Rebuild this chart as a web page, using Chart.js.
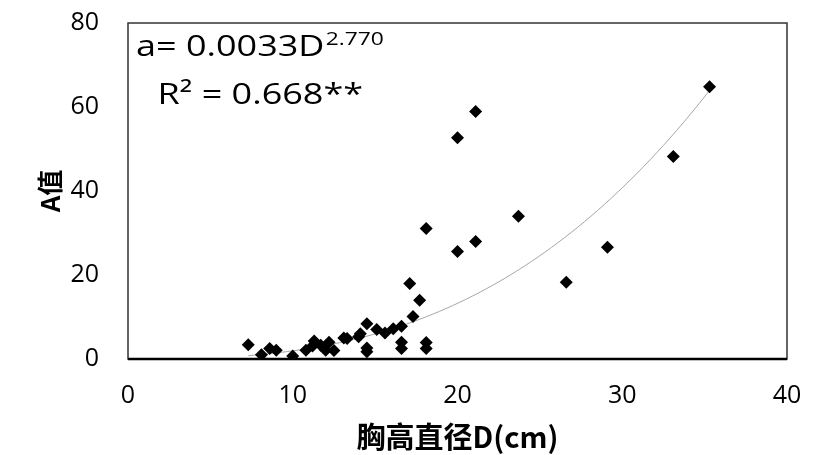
<!DOCTYPE html>
<html>
<head>
<meta charset="utf-8">
<script src="https://cdn.jsdelivr.net/npm/chart.js@4.4.1/dist/chart.umd.min.js"></script>
<style>
    html, body { margin: 0; padding: 0; background: #fff; }
    #wrap { width: 818px; height: 455px; }
</style>
</head>
<body>
<div id="wrap"><canvas id="chart"></canvas></div>
<script>
// 胸高直径 D (cm)
const diameters = [7.3, 8.1, 8.6, 9.0, 10.0, 10.8, 11.2, 11.3, 11.7, 12.0, 12.2, 12.5,
    13.1, 13.3, 14.0, 14.1, 14.5, 14.5, 14.5, 15.1, 15.6, 16.1, 16.6, 16.6, 16.6,
    17.1, 17.3, 17.7, 18.1, 18.1, 18.1, 20.0, 21.1, 20.0, 21.1, 23.7, 26.6, 29.1, 33.1, 35.3];
// A值
const aValues = [3.4, 1.0, 2.5, 2.1, 0.7, 2.1, 3.1, 4.3, 3.3, 2.1, 4.0, 2.0,
    5.0, 4.9, 5.3, 6.0, 8.4, 2.6, 1.7, 7.0, 6.2, 7.2, 7.8, 4.0, 2.5,
    18.0, 10.1, 14.0, 31.1, 3.9, 2.5, 52.7, 58.9, 25.6, 28.0, 34.0, 18.3, 26.6, 48.2, 64.8];

// fitted power curve a = coef * D^power (from the chart's equation)
const fitCoef = 0.0033;
const fitPower = 2.770;
const fitFrom = 7.3;
const fitTo = 35.3;

const xTicks = [0, 10, 20, 30, 40];
const yTicks = [0, 20, 40, 60, 80];

const points = diameters.map((d, i) => ({ x: d, y: aValues[i] }));
const fitLine = [];
for (let d = fitFrom; d <= fitTo + 1e-9; d += 0.4) {
    fitLine.push({ x: d, y: fitCoef * Math.pow(d, fitPower) });
}

const tickFont = { family: '"Open Sans", "Noto Sans", sans-serif', size: 25 };

const frame = {
    id: 'frame',
    afterDraw(chart) {
        const { ctx, chartArea: a } = chart;
        ctx.save();
        ctx.strokeStyle = '#333';
        ctx.lineWidth = 1.5;
        ctx.strokeRect(a.left, a.top, a.right - a.left, a.bottom - a.top);
        ctx.strokeStyle = '#000';
        ctx.lineWidth = 2.5;
        ctx.beginPath();
        ctx.moveTo(a.left, a.bottom);
        ctx.lineTo(a.right, a.bottom);
        ctx.stroke();

        // equation text, stretched a bit like the original picture
        ctx.fillStyle = '#000';
        ctx.textBaseline = 'alphabetic';
        ctx.translate(a.left + 8, a.top + 33);
        ctx.scale(1.2, 1);
        ctx.font = '30px "Open Sans", sans-serif';
        const main = 'a= 0.0033D';
        ctx.fillText(main, 0, 0);
        const w = ctx.measureText(main).width;
        ctx.font = '19px "Open Sans", sans-serif';
        ctx.fillText('2.770', w + 1, -11);
        ctx.font = '30px "Open Sans", sans-serif';
        ctx.fillText('R\u00B2 = 0.668**', 18, 48);
        ctx.restore();
    }
};

new Chart(document.getElementById('chart'), {
    type: 'scatter',
    data: {
        datasets: [
            {
                label: 'A值',
                data: points,
                pointStyle: 'rectRot',
                pointRadius: 6.5,
                pointHoverRadius: 6.5,
                backgroundColor: '#000',
                borderColor: '#000',
                borderWidth: 0
            },
            {
                label: 'fit',
                data: fitLine,
                showLine: true,
                pointRadius: 0,
                borderColor: '#a6a6a6',
                borderWidth: 1,
                tension: 0
            }
        ]
    },
    options: {
        responsive: true,
        maintainAspectRatio: false,
        animation: false,
        layout: { padding: { left: 0, right: 31, top: 23, bottom: 0 } },
        plugins: {
            legend: { display: false },
            tooltip: { enabled: false }
        },
        scales: {
            x: {
                type: 'linear',
                min: 0,
                max: 40,
                afterBuildTicks: s => { s.ticks = xTicks.map(v => ({ value: v })); },
                grid: { display: false, drawTicks: false },
                border: { display: false },
                ticks: { font: tickFont, color: '#000', padding: 22, maxRotation: 0 },
                title: {
                    display: true,
                    text: '胸高直径D(cm)',
                    color: '#000',
                    font: { family: '"Noto Sans CJK SC", sans-serif', size: 29, weight: 'bold' },
                    padding: { top: 0, bottom: 1 }
                },
                afterFit: s => {
                    s.height = 96;
                    s.paddingLeft = 0;
                    s.paddingRight = 0;
                }
            },
            y: {
                type: 'linear',
                min: 0,
                max: 80,
                afterBuildTicks: s => { s.ticks = yTicks.map(v => ({ value: v })); },
                grid: { display: false, drawTicks: false },
                border: { display: false },
                ticks: { font: tickFont, color: '#000', padding: 29 },
                title: {
                    display: true,
                    text: 'A值',
                    color: '#000',
                    font: { family: '"Noto Sans CJK SC", sans-serif', size: 26, weight: 'bold' },
                    padding: { top: 35, bottom: 0 }
                },
                afterFit: s => {
                    s.width = 128;
                    s.paddingTop = 0;
                    s.paddingBottom = 0;
                }
            }
        }
    },
    plugins: [frame]
});
</script>
</body>
</html>
